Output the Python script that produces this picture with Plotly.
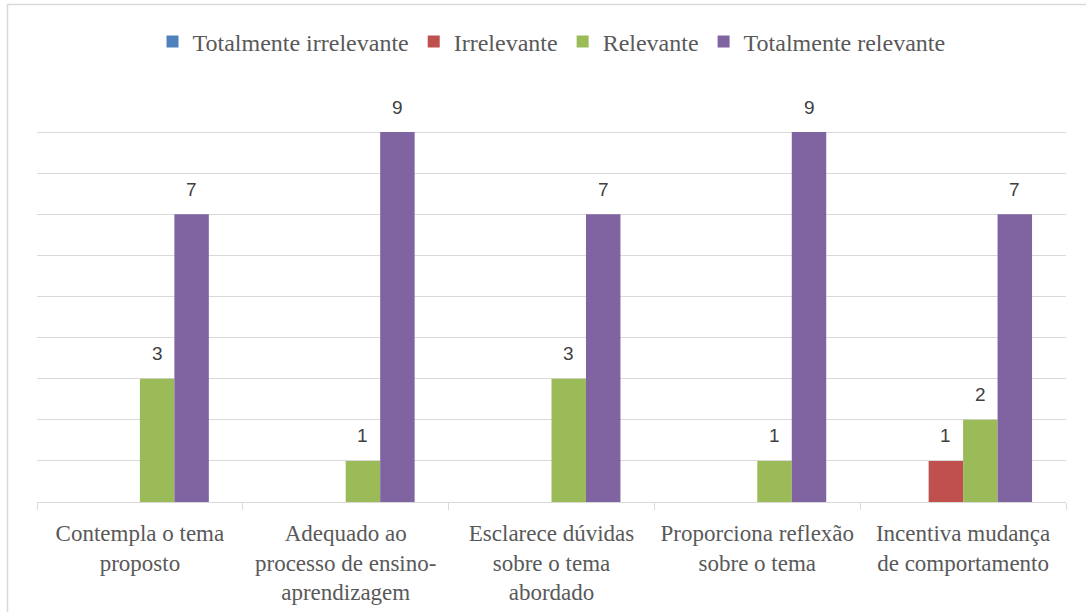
import plotly.graph_objects as go

categories = [
    "Contempla o tema<br>proposto",
    "Adequado ao<br>processo de ensino-<br>aprendizagem",
    "Esclarece dúvidas<br>sobre o tema<br>abordado",
    "Proporciona reflexão<br>sobre o tema",
    "Incentiva mudança<br>de comportamento",
]
series_names = ["Totalmente irrelevante", "Irrelevante", "Relevante", "Totalmente relevante"]
totalmente_irrelevante = [0, 0, 0, 0, 0]
irrelevante = [0, 0, 0, 0, 1]
relevante = [3, 1, 3, 1, 2]
totalmente_relevante = [7, 9, 7, 9, 7]
colors = ["#4F81BD", "#C0504D", "#9BBB59", "#8064A2"]
y_ticks = list(range(0, 11))

series_values = [totalmente_irrelevante, irrelevante, relevante, totalmente_relevante]

W, H = 1086, 612
L, R, T, B = 37, 20, 91, 110
pw, ph = W - L - R, H - T - B

fig = go.Figure()
for name, vals, col in zip(series_names, series_values, colors):
    fig.add_trace(go.Bar(
        name=name, x=categories, y=vals,
        marker=dict(color=col, line=dict(width=0)),
        hoverinfo="skip",
    ))

# data labels (non-zero values only)
annotations = []
n = len(series_names)
for si, vals in enumerate(series_values):
    for ci, v in enumerate(vals):
        if v == 0:
            continue
        annotations.append(dict(
            x=ci, y=v, xref="x", yref="y",
            text=str(v), showarrow=False,
            xshift=(si - (n - 1) / 2) * (pw / len(categories)) * 0.67 / n,
            yshift=25, yanchor="middle",
            font=dict(family="Liberation Sans", size=19, color="#404040"),
        ))

fig.update_layout(
    width=W, height=H,
    margin=dict(l=L, r=R, t=T, b=B, autoexpand=False),
    paper_bgcolor="white", plot_bgcolor="white",
    barmode="group", bargap=0.33, bargroupgap=0,
    showlegend=True,
    legend=dict(
        orientation="h", x=0.5, xanchor="center",
        y=1 + (T - 42) / ph, yanchor="middle",
        font=dict(family="Liberation Serif", size=24, color="#595959"),
        itemwidth=30, traceorder="normal",
    ),
    annotations=annotations,
    shapes=[dict(
        type="rect", xref="paper", yref="paper",
        x0=(7.5 - L) / pw, x1=(W + 10 - L) / pw,
        y0=-(H + 10 - (T + ph)) / ph, y1=1 + (T - 4.5) / ph,
        line=dict(color="#D9D9D9", width=1.5), fillcolor="rgba(0,0,0,0)",
        layer="below",
    )],
)

fig.update_xaxes(
    type="category",
    showgrid=False, showline=True, linecolor="#D9D9D9", linewidth=1,
    ticks="outside", tickson="boundaries", ticklen=7, tickcolor="#D9D9D9",
    tickfont=dict(family="Liberation Serif", size=23, color="#595959"),
    ticklabelstandoff=10,
    tickangle=0, fixedrange=True,
)
fig.update_yaxes(
    range=[0, 10], tickvals=y_ticks, showticklabels=False,
    showgrid=True, gridcolor="#D9D9D9", gridwidth=1,
    zeroline=False, showline=False, fixedrange=True,
)

fig.write_html(
    "out.html",
    config={"displayModeBar": False},
    post_script="document.body.style.margin='0';document.body.style.overflow='hidden';",
)
